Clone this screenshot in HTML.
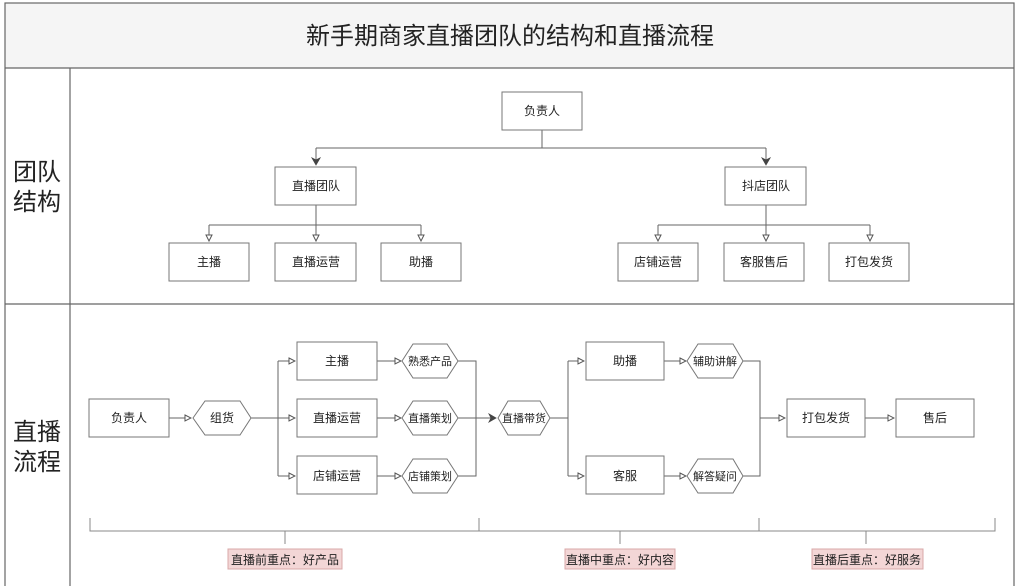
<!DOCTYPE html>
<html><head><meta charset="utf-8"><style>
html,body{margin:0;padding:0;background:#fff;}
svg{display:block;}
text{font-family:"Liberation Sans","Noto Sans CJK SC",sans-serif;fill:#222;}
</style></head><body>
<svg width="1026" height="586" viewBox="0 0 1026 586" xmlns="http://www.w3.org/2000/svg">
<defs>
<marker id="a" markerWidth="8" markerHeight="8" refX="7" refY="4" orient="auto" markerUnits="userSpaceOnUse">
<path d="M1,1 L7,4 L1,7 Z" fill="#fff" stroke="#555" stroke-width="1"/></marker>
<marker id="b" markerWidth="10" markerHeight="10" refX="8" refY="5" orient="auto" markerUnits="userSpaceOnUse">
<path d="M1,1 L8,5 L1,9 L3,5 Z" fill="#444" stroke="#444" stroke-width="0.8"/></marker>
</defs>
<rect x="0" y="0" width="1026" height="586" fill="#fff"/>
<rect x="5" y="3" width="1009" height="65" fill="#f5f5f5"/>
<g stroke="#666" stroke-width="1.2" fill="none">
<rect x="5" y="3" width="1009" height="600"/>
<line x1="5" y1="68" x2="1014" y2="68"/>
<line x1="5" y1="304" x2="1014" y2="304"/>
<line x1="70" y1="68" x2="70" y2="586"/>
</g>
<text x="510" y="44" font-size="24" text-anchor="middle" fill="#333">新手期商家直播团队的结构和直播流程</text>
<text x="37" y="180" font-size="24" text-anchor="middle">团队</text>
<text x="37" y="210" font-size="24" text-anchor="middle">结构</text>
<text x="37" y="440" font-size="24" text-anchor="middle">直播</text>
<text x="37" y="470" font-size="24" text-anchor="middle">流程</text>

<g stroke="#666" stroke-width="1" fill="none">
<path d="M542 130 V148 M316 148 H766"/>
<path d="M316 148 V165" marker-end="url(#b)"/>
<path d="M766 148 V165" marker-end="url(#b)"/>
<path d="M316 205 V225 M209 225 H421 M658 225 H870 M766 205 V225"/>
<path d="M209 225 V241" marker-end="url(#a)"/>
<path d="M316 225 V241" marker-end="url(#a)"/>
<path d="M421 225 V241" marker-end="url(#a)"/>
<path d="M658 225 V241" marker-end="url(#a)"/>
<path d="M766 225 V241" marker-end="url(#a)"/>
<path d="M870 225 V241" marker-end="url(#a)"/>
</g>
<g stroke="#777" stroke-width="1" fill="#fff">
<rect x="502" y="92" width="80" height="38"/>
<rect x="275" y="167" width="81" height="38"/>
<rect x="725" y="167" width="81" height="38"/>
<rect x="169" y="243" width="80" height="38"/>
<rect x="275" y="243" width="81" height="38"/>
<rect x="381" y="243" width="80" height="38"/>
<rect x="618" y="243" width="80" height="38"/>
<rect x="724" y="243" width="80" height="38"/>
<rect x="829" y="243" width="80" height="38"/>
</g>
<g font-size="12" text-anchor="middle">
<text x="542" y="115">负责人</text>
<text x="316" y="190">直播团队</text>
<text x="766" y="190">抖店团队</text>
<text x="209" y="266">主播</text>
<text x="316" y="266">直播运营</text>
<text x="421" y="266">助播</text>
<text x="658" y="266">店铺运营</text>
<text x="764" y="266">客服售后</text>
<text x="869" y="266">打包发货</text>
</g>

<g stroke="#666" stroke-width="1" fill="none">
<path d="M169 418 H191" marker-end="url(#a)"/>
<path d="M251 418 H278 M278 361 V476"/>
<path d="M278 361 H295" marker-end="url(#a)"/>
<path d="M278 418 H295" marker-end="url(#a)"/>
<path d="M278 476 H295" marker-end="url(#a)"/>
<path d="M377 361 H401" marker-end="url(#a)"/>
<path d="M377 418 H401" marker-end="url(#a)"/>
<path d="M377 476 H401" marker-end="url(#a)"/>
<path d="M458 361 H476 V476 H458 M458 418 H476"/>
<path d="M476 418 H496" marker-end="url(#b)"/>
<path d="M550 418 H568 M568 361 V476"/>
<path d="M568 361 H584" marker-end="url(#a)"/>
<path d="M568 476 H584" marker-end="url(#a)"/>
<path d="M664 361 H686" marker-end="url(#a)"/>
<path d="M664 476 H686" marker-end="url(#a)"/>
<path d="M743 361 H760 V476 H743 M760 418 H785" marker-end="url(#a)"/>
<path d="M865 418 H894" marker-end="url(#a)"/>
</g>
<g stroke="#777" stroke-width="1" fill="#fff">
<rect x="89" y="399" width="80" height="38"/>
<rect x="297" y="342" width="80" height="38"/>
<rect x="297" y="399" width="80" height="38"/>
<rect x="297" y="456" width="80" height="38"/>
<rect x="586" y="342" width="78" height="38"/>
<rect x="586" y="456" width="78" height="38"/>
<rect x="787" y="399" width="78" height="38"/>
<rect x="896" y="399" width="78" height="38"/>
<polygon points="193,418 205,401 240,401 251,418 240,435 205,435"/>
<polygon points="402,361 413,344 447,344 458,361 447,378 413,378"/>
<polygon points="402,418 413,401 447,401 458,418 447,435 413,435"/>
<polygon points="402,476 413,459 447,459 458,476 447,493 413,493"/>
<polygon points="498,418 508,401 540,401 550,418 540,435 508,435"/>
<polygon points="687,361 698,344 733,344 743,361 733,378 698,378"/>
<polygon points="687,476 698,459 733,459 743,476 733,493 698,493"/>
</g>
<g font-size="12" text-anchor="middle">
<text x="129" y="422">负责人</text>
<text x="222" y="422">组货</text>
<text x="337" y="365">主播</text>
<text x="337" y="422">直播运营</text>
<text x="337" y="480">店铺运营</text>
<text x="625" y="365">助播</text>
<text x="625" y="480">客服</text>
<text x="826" y="422">打包发货</text>
<text x="935" y="422">售后</text>
</g>
<g font-size="11" text-anchor="middle">
<text x="430" y="365">熟悉产品</text>
<text x="430" y="422">直播策划</text>
<text x="430" y="480">店铺策划</text>
<text x="524" y="422">直播带货</text>
<text x="715" y="365">辅助讲解</text>
<text x="715" y="480">解答疑问</text>
</g>

<g stroke="#888" stroke-width="1" fill="none">
<path d="M90 518 V531 H995 V518 M479 518 V531 M759 518 V531"/>
<path d="M285 531 V544 M620 531 V544 M866 531 V544"/>
</g>
<g stroke="#d8a8a8" stroke-width="1" fill="#f3d6d6">
<rect x="228" y="549" width="114" height="20"/>
<rect x="565" y="549" width="110" height="20"/>
<rect x="812" y="549" width="111" height="20"/>
</g>
<g font-size="12" text-anchor="middle">
<text x="285" y="564">直播前重点：好产品</text>
<text x="620" y="564">直播中重点：好内容</text>
<text x="867" y="564">直播后重点：好服务</text>
</g>
</svg>
</body></html>
